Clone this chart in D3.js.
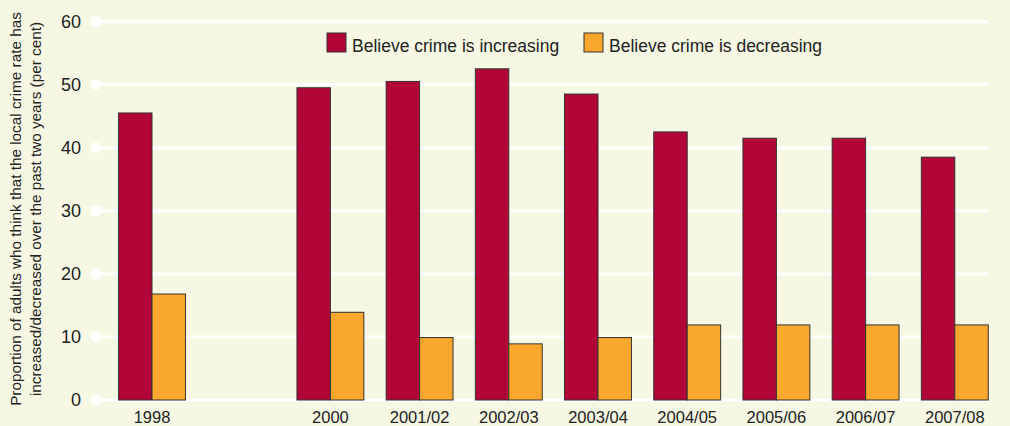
<!DOCTYPE html>
<html>
<head>
<meta charset="utf-8">
<script src="https://d3js.org/d3.v7.min.js"></script>
<style>
  html, body { margin: 0; padding: 0; background: #f7f8e4; }
  svg { display: block; font-family: "Liberation Sans", Arial, sans-serif; }
</style>
</head>
<body>
<div id="chart"></div>
<script>
// categories, "" = empty slot (no 1999 survey)
var categories = ["1998", "", "2000", "2001/02", "2002/03", "2003/04", "2004/05", "2005/06", "2006/07", "2007/08"]
var increasing = [45.5, null, 49.5, 50.5, 52.5, 48.5, 42.5, 41.5, 41.5, 38.5]
var decreasing = [16.8, null, 13.9, 9.9, 8.9, 9.9, 11.9, 11.9, 11.9, 11.9]
var yTicks = [0, 10, 20, 30, 40, 50, 60]
var seriesNames = ["Believe crime is increasing", "Believe crime is decreasing"]
var seriesColors = ["#b10538", "#faa82d"]

var width = 1010,
  height = 426

var svg = d3.select("#chart")
  .append("svg")
  .attr("width", width)
  .attr("height", height)

svg.append("rect")
  .attr("width", width)
  .attr("height", height)
  .attr("fill", "#f7f8e4")

var x = d3.scaleBand()
  .domain(d3.range(categories.length))
  .range([107.4, 999.4])
  .paddingInner(0.25)
  .paddingOuter(0.125)

var y = d3.scaleLinear()
  .domain([0, 60])
  .range([400, 21.5])

// gridlines with the dot at the left end
var grid = svg.append("g")
grid.selectAll("line")
  .data(yTicks)
  .enter()
  .append("line")
  .attr("x1", 96)
  .attr("x2", 988)
  .attr("y1", function(d) { return y(d) })
  .attr("y2", function(d) { return y(d) })
  .attr("stroke", "#ffffff")
  .attr("stroke-width", 3)

grid.selectAll("circle")
  .data(yTicks)
  .enter()
  .append("circle")
  .attr("cx", 96)
  .attr("cy", function(d) { return y(d) })
  .attr("r", 5.5)
  .attr("fill", "#ffffff")

grid.selectAll("text")
  .data(yTicks)
  .enter()
  .append("text")
  .attr("x", 81)
  .attr("y", function(d) { return y(d) })
  .attr("dy", "0.36em")
  .attr("text-anchor", "end")
  .attr("font-size", 18)
  .attr("fill", "#222")
  .text(function(d) { return d })

// bars
var bw = x.bandwidth() / 2
var series = [increasing, decreasing]
series.forEach(function(values, s) {
  svg.append("g")
    .selectAll("rect")
    .data(values.map(function(v, i) { return { i: i, v: v } }).filter(function(d) { return d.v != null }))
    .enter()
    .append("rect")
    .attr("x", function(d) { return x(d.i) + s * bw })
    .attr("y", function(d) { return y(d.v) })
    .attr("width", bw)
    .attr("height", function(d) { return y(0) - y(d.v) })
    .attr("fill", seriesColors[s])
    .attr("stroke", "#333")
    .attr("stroke-width", 1)
})

// x tick labels
svg.append("g")
  .selectAll("text")
  .data(categories)
  .enter()
  .append("text")
  .attr("x", function(d, i) { return x(i) + x.bandwidth() / 2 })
  .attr("y", 422.5)
  .attr("text-anchor", "middle")
  .attr("font-size", 16.5)
  .attr("fill", "#222")
  .text(function(d) { return d })

// legend
var legendX = [327, 584]
var legend = svg.append("g")
seriesNames.forEach(function(name, s) {
  legend.append("rect")
    .attr("x", legendX[s])
    .attr("y", 33)
    .attr("width", 19)
    .attr("height", 19)
    .attr("fill", seriesColors[s])
    .attr("stroke", "#333")
    .attr("stroke-width", 1)
  legend.append("text")
    .attr("x", legendX[s] + 25)
    .attr("y", 52)
    .attr("font-size", 17.5)
    .attr("fill", "#222")
    .text(name)
})

// y axis title
var title = svg.append("text")
  .attr("transform", "translate(0,209) rotate(-90)")
  .attr("text-anchor", "middle")
  .attr("font-size", 15.3)
  .attr("fill", "#222")
title.append("tspan").attr("x", 0).attr("y", 21).text("Proportion of adults who think that the local crime rate has")
title.append("tspan").attr("x", 0).attr("y", 41).text("increased/decreased over the past two years (per cent)")
</script>
</body>
</html>
